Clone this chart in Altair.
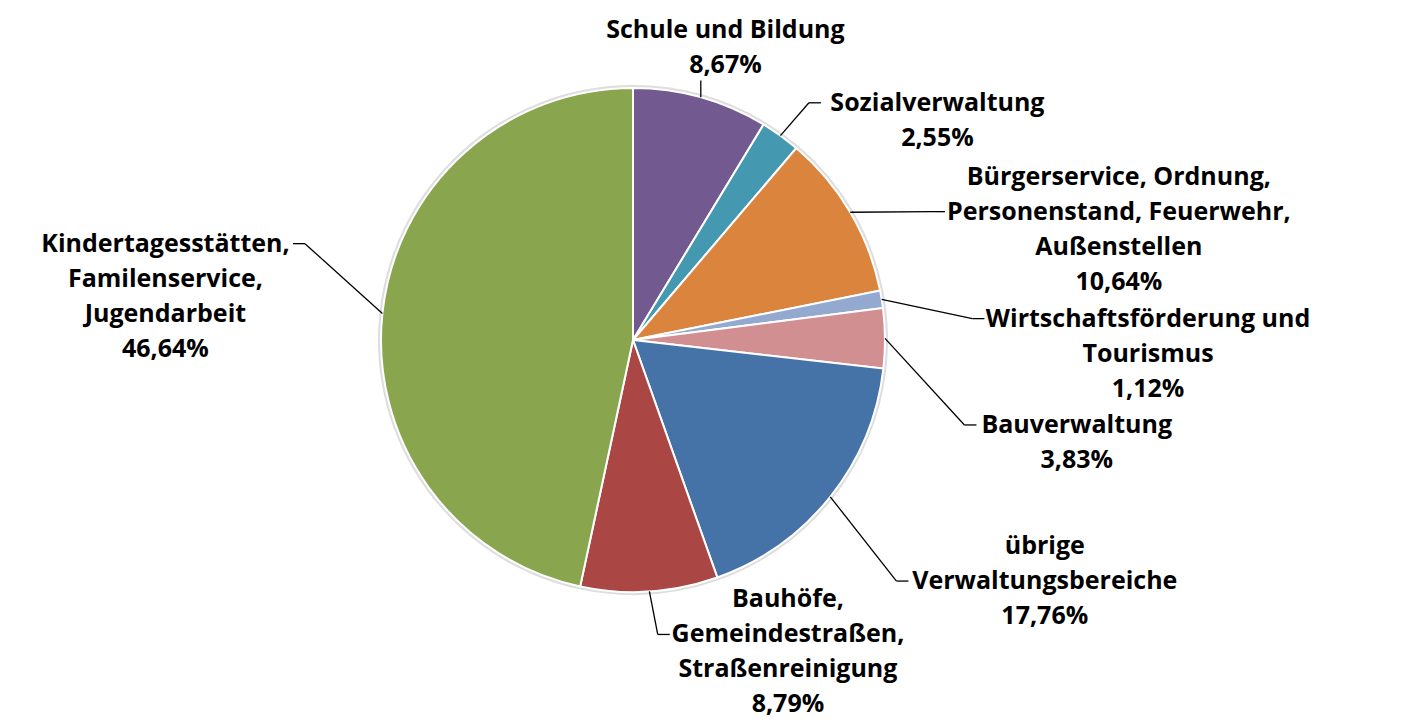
import math
import numpy as np
import pandas as pd
import altair as alt

# ---------------- data ----------------
categories = [
    "Schule und Bildung",
    "Sozialverwaltung",
    "Bürgerservice, Ordnung, Personenstand, Feuerwehr, Außenstellen",
    "Wirtschaftsförderung und Tourismus",
    "Bauverwaltung",
    "übrige Verwaltungsbereiche",
    "Bauhöfe, Gemeindestraßen, Straßenreinigung",
    "Kindertagesstätten, Familenservice, Jugendarbeit",
]
label_lines = [
    ["Schule und Bildung"],
    ["Sozialverwaltung"],
    ["Bürgerservice, Ordnung,", "Personenstand, Feuerwehr,", "Außenstellen"],
    ["Wirtschaftsförderung und", "Tourismus"],
    ["Bauverwaltung"],
    ["übrige", "Verwaltungsbereiche"],
    ["Bauhöfe,", "Gemeindestraßen,", "Straßenreinigung"],
    ["Kindertagesstätten,", "Familenservice,", "Jugendarbeit"],
]
shares = [8.67, 2.55, 10.64, 1.12, 3.83, 17.76, 8.79, 46.64]
colors = ["#72598F", "#4499B0", "#DB843D", "#93A9CF", "#D18F91", "#4572A7", "#AA4644", "#89A54E"]

# ---------------- layout settings ----------------
W, H = 1402, 714
CX, CY, R = 625, 332, 252
FONT = "Open Sans"
FS, LH = 25, 35
STRETCH = 1.13
HL_UP, HL_DN = 12, 14  # ink extent of one text line above / below its anchor

# approximate advance widths (em) of a bold humanist sans, for label layout
_EM = {}
for ch, w in [("abdghnopqu", 0.65), ("ceksvxyz", 0.56), ("fijlrt", 0.38), ("m", 0.98), ("w", 0.88),
              ("äöü", 0.63), ("ß", 0.68), ("0123456789", 0.57), (",.", 0.30), (" ", 0.26),
              ("%", 0.88), ("BKPSTFGA", 0.66), ("JI", 0.34), ("OW", 0.85)]:
    for c in ch:
        _EM[c] = w


def text_w(s):
    return sum(_EM.get(c, 0.6) for c in s) * FS * 0.98


pct = [f"{v:.2f}%".replace(".", ",") for v in shares]
texts = ["\n".join(l + [p]) for l, p in zip(label_lines, pct)]

total = sum(shares)
cum = np.cumsum(shares)
mids = [(c - v / 2) / total * 2 * math.pi for c, v in zip(cum, shares)]


def label_geom(lines):
    n = len(lines)
    offs = [(-(n - 1) / 2 + j) * LH for j in range(n)]
    hws = [text_w(s) / 2 + 2 for s in lines]
    return offs, hws


def min_dist(X, Y, offs, hws):
    hh = (HL_UP + HL_DN) / 2
    sh = (HL_DN - HL_UP) / 2
    best = 1e9
    for o, hw in zip(offs, hws):
        dx = max((abs(X) - hw) / STRETCH, 0.0)
        dy = max(abs(Y + o + sh) - hh, 0.0)
        d = math.hypot(dx, dy)
        if d < best:
            best = d
    return best


def place(ang, offs, hws, dist):
    s, c = math.sin(ang), -math.cos(ang)
    lo, hi = 0.0, 1500.0
    for _ in range(24):
        m = (lo + hi) / 2
        if min_dist(m * s * STRETCH, m * c, offs, hws) >= dist:
            hi = m
        else:
            lo = m
    return CX + hi * s * STRETCH, CY + hi * c


def rects_at(x, y, offs, hws):
    return [(x - hw, y + o - HL_UP, x + hw, y + o + HL_DN) for o, hw in zip(offs, hws)]


def block_of(rs):
    return (min(r[0] for r in rs), rs[0][1], max(r[2] for r in rs), rs[-1][3])


def overlaps(b1, b2, m=10):
    return not (b1[2] + m <= b2[0] or b2[2] + m <= b1[0] or b1[3] + m <= b2[1] or b2[3] + m <= b1[1])


# labels nearest the top / bottom of the pie have the least room: place them first
order = sorted(range(len(mids)), key=lambda j: -abs(math.cos(mids[j])))

placed = []
lab_rows = []
rule_rows = []
for i in order:
    a = mids[i]
    lines = texts[i].split("\n")
    n = len(lines)
    offs, hws = label_geom(lines)
    gap = 10 + 54 * math.sin(a) ** 2
    x0, y0 = place(a, offs, hws, R + gap)
    best = None
    for e in range(0, 300, 3):
        if best is not None and e > best[0] + 20:
            break
        for d in range(-45, 46):
            ang = a + math.radians(d)
            x, y = place(ang, offs, hws, R + gap + e)
            rs = rects_at(x, y, offs, hws)
            blk = block_of(rs)
            if blk[0] < 3 or blk[2] > W - 3 or blk[1] < 6 or blk[3] > H - 3:
                continue
            if any(overlaps(blk, b) for b in placed):
                continue
            cost = math.hypot(x - x0, y - y0) + 0.3 * d
            if best is None or cost < best[0]:
                best = (cost, x, y, rs, blk)
    _, x, y, rs, blk = best
    placed.append(blk)
    first_y = y + offs[0]
    lab_rows.append({"category": categories[i], "label": texts[i], "lx": x, "ly": first_y})

    # leader line: from the slice edge to the nearest side of a label line
    px, py = CX + R * math.sin(a), CY - R * math.cos(a)
    cands = []
    for j, r in enumerate(rs):
        ly = y + offs[j]
        cands.append((math.hypot(px - (r[0] - 4), py - ly), "left", r[0] - 4, ly))
        cands.append((math.hypot(px - (r[2] + 4), py - ly), "right", r[2] + 4, ly))
    for r, kind in ((rs[0], "top"), (rs[-1], "bottom")):
        if r[0] <= px <= r[2]:
            ay = r[1] - 2 if kind == "top" else r[3] + 2
            cands.append((abs(py - ay), kind, px, ay))
    _, kind, ax, ay = min(cands)
    if kind in ("left", "right"):
        bx = ax - 12 if kind == "left" else ax + 12
        rule_rows.append({"x": px, "y": py, "x2": bx, "y2": ay})
        rule_rows.append({"x": bx, "y": ay, "x2": ax, "y2": ay})
    else:
        rule_rows.append({"x": px, "y": py, "x2": ax, "y2": ay})

pie_df = pd.DataFrame({"category": categories, "share": shares, "idx": list(range(len(categories)))})
lab_df = pd.DataFrame(lab_rows)
rule_df = pd.DataFrame(rule_rows)

color_scale = alt.Scale(domain=categories, range=colors)

base = alt.Chart(pie_df).encode(
    theta=alt.Theta("share:Q", stack=True),
    order=alt.Order("idx:Q"),
    x=alt.value(CX),
    y=alt.value(CY),
)

shadow = base.mark_arc(radius=R + 3, color="#d4d4d4", opacity=0.8)
pie = base.mark_arc(radius=R, stroke="white", strokeWidth=2).encode(
    color=alt.Color("category:N", scale=color_scale, legend=None)
)

rules = alt.Chart(rule_df).mark_rule(color="black", strokeWidth=1.3).encode(
    x=alt.X("x:Q", scale=None, axis=None),
    y=alt.Y("y:Q", scale=None, axis=None),
    x2="x2:Q",
    y2="y2:Q",
)

labels = alt.Chart(lab_df).mark_text(
    font=FONT, fontSize=FS, fontWeight="bold", lineHeight=LH,
    align="center", baseline="middle", lineBreak="\n", color="black",
).encode(
    x=alt.X("lx:Q", scale=None, axis=None),
    y=alt.Y("ly:Q", scale=None, axis=None),
    text="label:N",
)

chart = alt.layer(shadow, pie, rules, labels).properties(
    width=W, height=H, padding=0, autosize=alt.AutoSizeParams(type="none")
).configure_view(stroke=None)

chart.save("out.html", embed_options={"renderer": "svg", "actions": False})
